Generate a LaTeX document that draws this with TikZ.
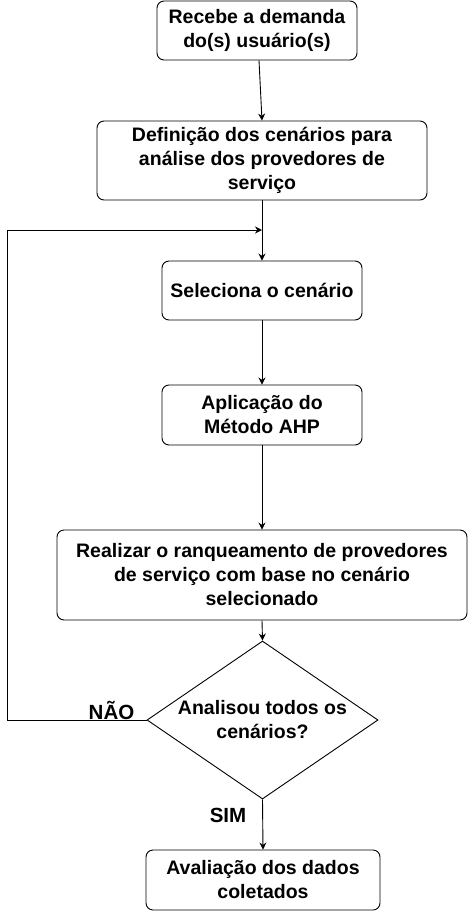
\documentclass[tikz,border=0pt]{standalone}
\usepackage{fontspec}
\setmainfont{Liberation Sans}
\usepackage{tikz}
\usetikzlibrary{arrows.meta,shapes.geometric}

\tikzset{
  passo/.style={draw, rounded corners=7pt, line width=0.9pt, align=center,
    font=\fontsize{19.5}{24}\selectfont\bfseries, inner sep=0pt},
  decisao/.style={draw, diamond, line width=0.9pt, align=center, aspect=1.45,
    font=\fontsize{19.5}{24}\selectfont\bfseries, inner sep=0pt},
  seta/.style={-{Stealth[length=7pt,width=7pt]}, line width=0.9pt},
  rotulo/.style={font=\fontsize{20.5}{24}\selectfont\bfseries, inner sep=0pt, anchor=base}
}

\begin{document}
\begin{tikzpicture}[x=1pt,y=-1pt]
      \useasboundingbox (0,0) rectangle (468,911);
      \node[passo, minimum width=200pt, minimum height=59pt] (demanda) at (257,30.5) {Recebe a demanda\\do(s) usuário(s)};
      \node[passo, minimum width=330pt, minimum height=79pt] (cenarios) at (262,160.5) {Definição dos cenários para\\análise dos provedores de\\serviço};
      \node[passo, minimum width=200pt, minimum height=59pt] (seleciona) at (262,290.5) {Seleciona o cenário};
      \node[passo, minimum width=200pt, minimum height=60pt] (ahp) at (262,415) {Aplicação do\\Método AHP};
      \node[passo, minimum width=410pt, minimum height=90pt] (ranking) at (262,575) {Realizar o ranqueamento de provedores\\de serviço com base no cenário\\selecionado};
      \node[decisao, minimum width=231pt, minimum height=158pt] (analisou) at (262.5,720) {Analisou todos os\\cenários?};
      \node[passo, minimum width=234pt, minimum height=60pt] (avaliacao) at (263,880) {Avaliação dos dados\\coletados};
      \coordinate (retorno) at (262,230);

      \draw[seta] (demanda.south) ++(2,0) -- (cenarios.north);
      \draw[line width=0.9pt] (cenarios.south) -- (retorno);
      \draw[seta] (retorno) -- (seleciona.north);
      \draw[seta] (seleciona.south) -- (ahp.north);
      \draw[seta] (ahp.south) -- (ranking.north);
      \draw[seta] (ranking.south) -- (analisou.north);
      \draw[seta] (analisou.south) -- (avaliacao.north);
      \draw[seta] (analisou.west) -- (7,720) -- (7,230) -- (retorno);

      \node[rotulo] (nao) at (111.5,719.5) {NÃO};
      \node[rotulo] (sim) at (228,822) {SIM};
\end{tikzpicture}
\end{document}
